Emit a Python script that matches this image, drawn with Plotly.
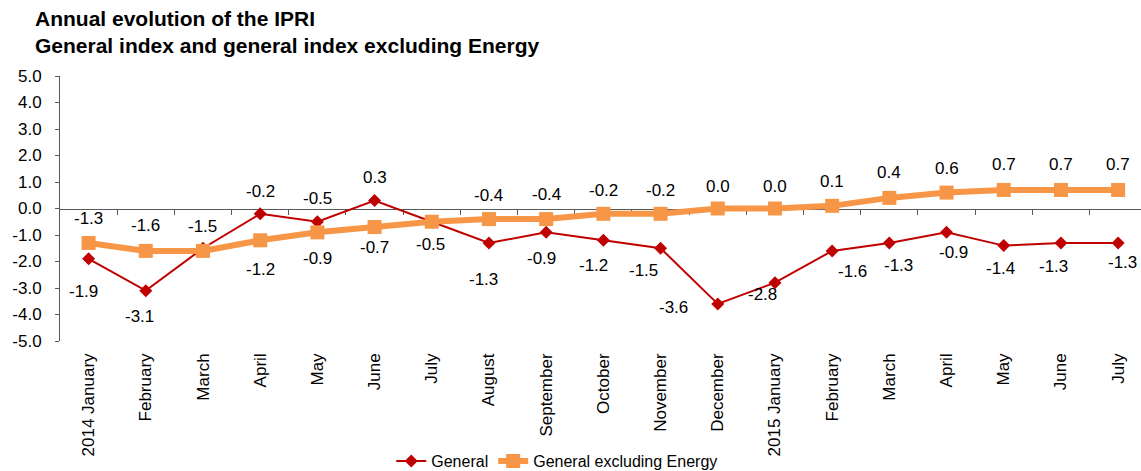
import plotly.graph_objects as go

categories = ["2014 January", "February", "March", "April", "May", "June", "July",
              "August", "September", "October", "November", "December",
              "2015 January", "February", "March", "April", "May", "June", "July"]
general = [-1.9, -3.1, -1.5, -0.2, -0.5, 0.3, -0.5, -1.3, -0.9, -1.2, -1.5, -3.6,
           -2.8, -1.6, -1.3, -0.9, -1.4, -1.3, -1.3]
excl_energy = [-1.3, -1.6, -1.6, -1.2, -0.9, -0.7, -0.5, -0.4, -0.4, -0.2, -0.2, 0.0,
               0.0, 0.1, 0.4, 0.6, 0.7, 0.7, 0.7]
y_ticks = [-5, -4, -3, -2, -1, 0, 1, 2, 3, 4, 5]
title_lines = ["Annual evolution of the IPRI",
               "General index and general index excluding Energy"]

# label placement (screen pixel offsets, dy positive = down); None = no label
gen_label_off = [(-5, 33), (-6, 26), (0, -22), (0, -22), (0, -23), (0, -23), (-1, 23),
                 (-5, 37), (-5, 26), (-10, 25), (-17, 22), (-44, 4), (-12, 12),
                 (20, 21), (9, 23), (7, 20), (-3, 23), (-7, 24), (4, 20)]
exc_label_off = [(0, -24), (0, -25), None, (0, 29), (0, 26), (0, 20), None,
                 (0, -24), (0, -25), (0, -23), (0, -23), (0, -22), (0, -22),
                 (0, -24), (0, -25), (0, -24), (0, -25), (0, -25), (0, -25)]

FONT = "Liberation Sans, Arial, sans-serif"
RED = "#C00000"
ORANGE = "#F79646"
AXIS = "#595959"

W, H = 1141, 471
ML, MR, MT, MB = 60, 0, 76, 130
PH = H - MT - MB

xs = list(range(len(categories)))

fig = go.Figure()
fig.add_trace(go.Scatter(x=xs, y=general, name="General", mode="lines+markers",
                         line=dict(color=RED, width=2),
                         marker=dict(symbol="diamond", size=10, color=RED),
                         legendrank=1, hoverinfo="y"))
fig.add_trace(go.Scatter(x=xs, y=excl_energy, name="General excluding Energy",
                         mode="lines+markers",
                         line=dict(color=ORANGE, width=6),
                         marker=dict(symbol="square", size=14, color=ORANGE),
                         legendrank=2, hoverinfo="y"))
# invisible trace to carry the bottom label axis
fig.add_trace(go.Scatter(x=xs, y=[None] * len(xs), xaxis="x2", yaxis="y",
                         showlegend=False, hoverinfo="skip", mode="lines"))

annotations = []
for vals, offs in ((general, gen_label_off), (excl_energy, exc_label_off)):
    for i, (v, off) in enumerate(zip(vals, offs)):
        if off is None:
            continue
        annotations.append(dict(x=i, y=v, xref="x", yref="y", text=f"{v:.1f}",
                                showarrow=False, xanchor="center", yanchor="middle",
                                xshift=off[0], yshift=-off[1],
                                font=dict(family=FONT, size=17, color="#000")))

# title as a paper annotation
annotations.append(dict(text="<b>" + "<br>".join(title_lines) + "</b>",
                        xref="paper", yref="paper",
                        x=(33 - ML) / (W - ML - MR), y=(H - MB - 5) / PH,
                        xanchor="left", yanchor="top", align="left", showarrow=False,
                        font=dict(family=FONT, size=21, color="#000")))

xr = [-0.5, 18.4]
fig.update_layout(
    width=W, height=H,
    margin=dict(l=ML, r=MR, t=MT, b=MB, autoexpand=False),
    paper_bgcolor="white", plot_bgcolor="white",
    font=dict(family=FONT, color="#000"),
    xaxis=dict(range=xr, anchor="free", position=0.5, showline=True, linecolor=AXIS,
               linewidth=1, ticks="outside", ticklen=5, tickcolor=AXIS,
               tickvals=[i + 0.5 for i in xs[:-1]], showticklabels=False,
               showgrid=False, zeroline=False, layer="below traces", automargin=False),
    xaxis2=dict(range=xr, overlaying="x", anchor="y", side="bottom",
                tickvals=xs, ticktext=categories, tickangle=-90, ticks="",
                showline=False, showgrid=False, zeroline=False,
                ticklabelstandoff=8, automargin=False,
                tickfont=dict(family=FONT, size=17, color="#000")),
    yaxis=dict(range=[-5, 5], domain=[0, 1], tickvals=y_ticks,
               ticktext=[f"{v:.1f}" for v in y_ticks], showline=True,
               linecolor=AXIS, linewidth=1, ticks="outside", ticklen=4,
               tickcolor=AXIS, showgrid=False, zeroline=False,
               ticklabelstandoff=10, automargin=False,
               tickfont=dict(family=FONT, size=17, color="#000")),
    legend=dict(orientation="h", x=0.46, xanchor="center", y=-0.453, yanchor="middle",
                font=dict(family=FONT, size=16, color="#000"), bgcolor="rgba(0,0,0,0)"),
    annotations=annotations,
    showlegend=True,
)

fig.write_html("out.html", config={"displayModeBar": False},
               post_script="document.body.style.margin='0px';document.body.style.padding='0px';")
